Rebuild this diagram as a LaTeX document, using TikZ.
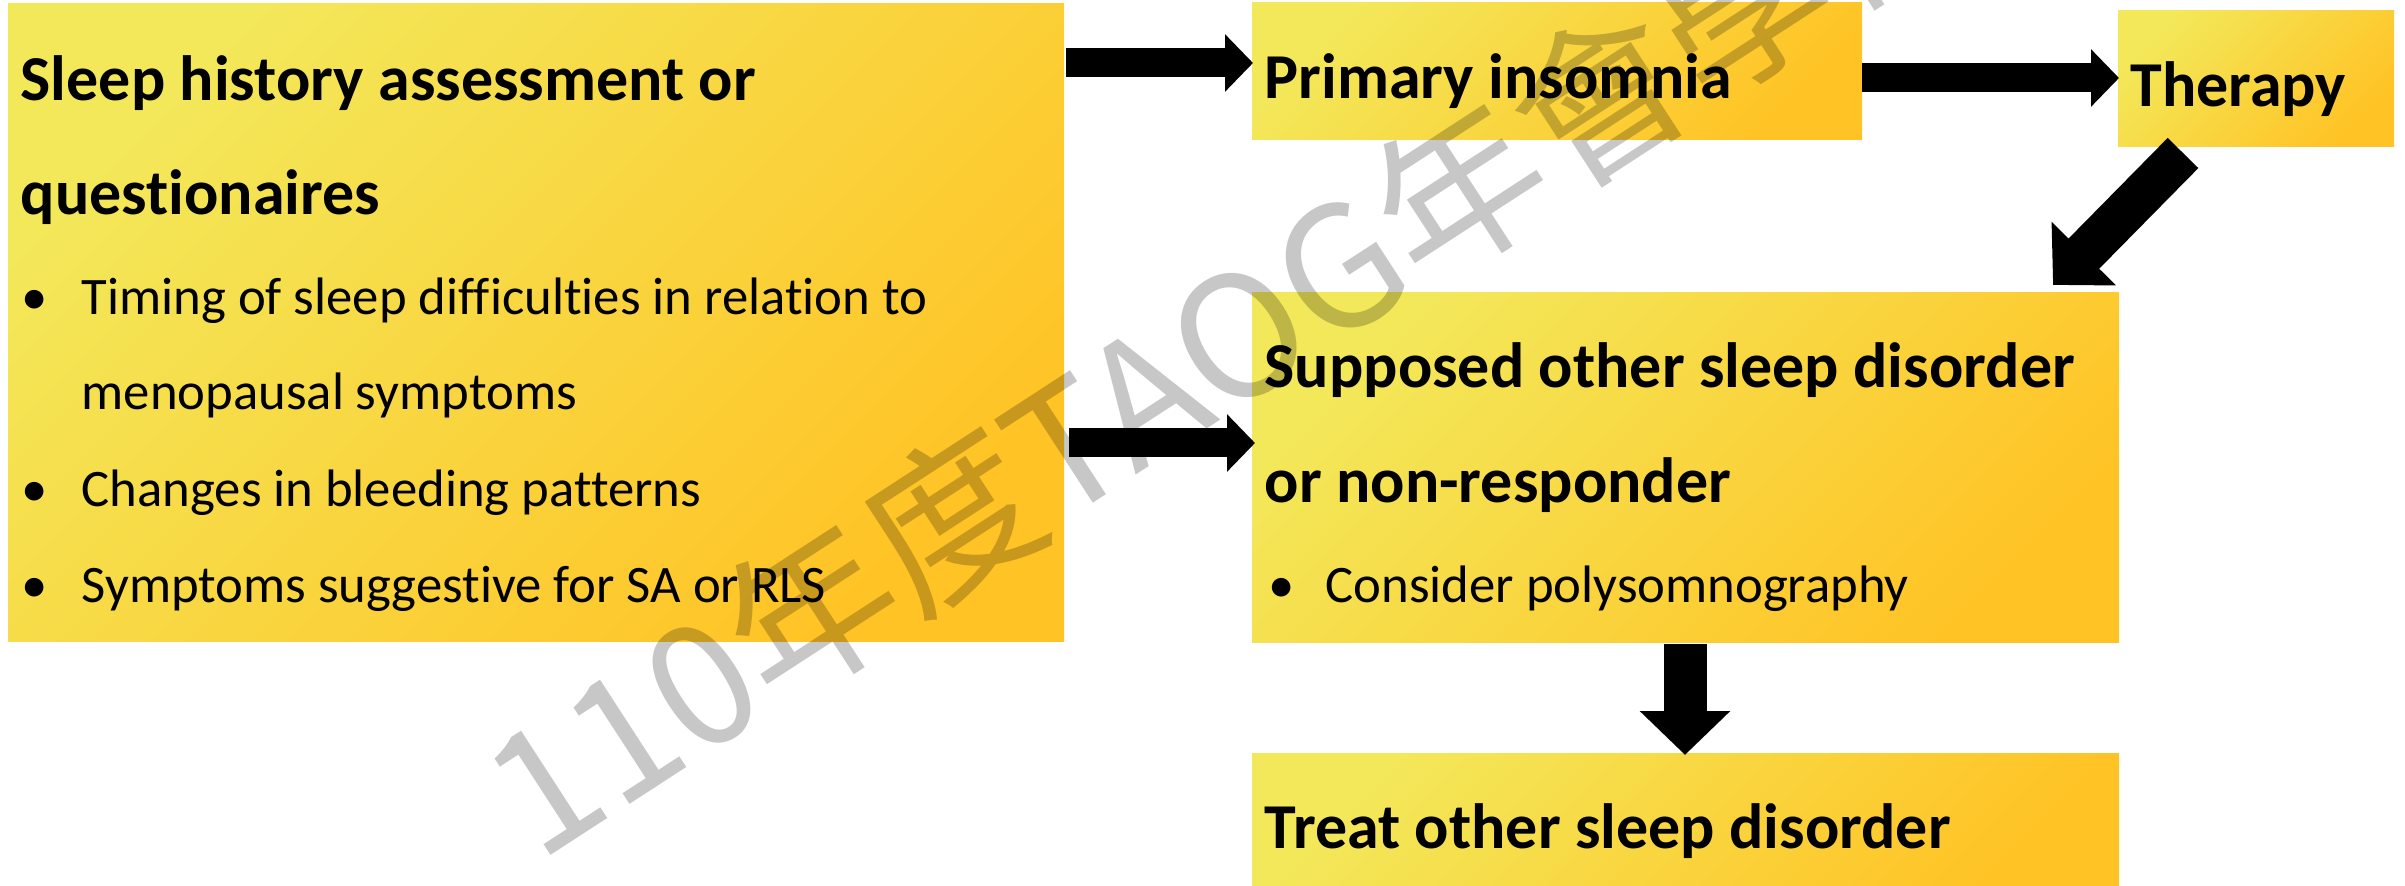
\documentclass[tikz,border=0pt]{standalone}
\usepackage{fontspec}
\setmainfont[Ligatures=NoCommon]{Carlito}
\newfontfamily\cjk{Noto Sans CJK TC}
\usetikzlibrary{arrows.meta,calc}
\definecolor{ylight}{RGB}{243,232,90}
\definecolor{ydark}{RGB}{255,195,37}

\begin{document}
\begin{tikzpicture}[x=0.1mm, y=-0.1mm,
    box/.style={inner sep=0, outer sep=0, anchor=north west, top color=ylight, bottom color=ydark, shading angle=45},
    head/.style={anchor=base west, inner sep=0, font=\bfseries\fontsize{18.2pt}{20pt}\selectfont},
    item/.style={anchor=base west, inner sep=0, font=\fontsize{15pt}{17pt}\selectfont},
    blk/.style={line width=2.9mm, -{Triangle[length=2.8mm, width=5.6mm]}},
    bigblk/.style={line width=4.3mm, -{Triangle[length=4.4mm, width=8.8mm]}},
    wm/.style={anchor=base west, inner sep=0, rotate=33, text=black, text opacity=0.22, font=\cjk\fontsize{48pt}{52pt}\selectfont}]
    \useasboundingbox (0,0) rectangle (2405,886);
    \clip (0,0) rectangle (2405,886);

    % boxes
    \node[box, minimum width=105.6mm, minimum height=63.8mm] (hist) at (8,4) {};
    \node[box, minimum width=61mm, minimum height=13.7mm] (prim) at (1252,3) {};
    \node[box, minimum width=27.6mm, minimum height=13.6mm] (ther) at (2118,11) {};
    \node[box, minimum width=86.7mm, minimum height=35mm] (supp) at (1252,293) {};
    \node[box, minimum width=86.7mm, minimum height=14mm] (treat) at (1252,753) {};

    % texts
    \node[head] (h1) at (20,101) {Sleep history assessment or};
    \node[head] (h2) at (20,215) {questionaires};
    \foreach \y in {315, 507, 603}{
        \node[item] at (21,\y) {•};
    }
    \node[item] (t1) at (81,315) {Timing of sleep difficulties in relation to};
    \node[item] (t2) at (81,410) {menopausal symptoms};
    \node[item] (t3) at (81,507) {Changes in bleeding patterns};
    \node[item] (t4) at (81,603) {Symptoms suggestive for SA or RLS};

    \node[head] (p1) at (1264,99) {Primary insomnia};
    \node[head] (r1) at (2130,107) {Therapy};

    \node[head] (s1) at (1264,388) {Supposed other sleep disorder};
    \node[head] (s2) at (1264,503) {or non-responder};
    \node[item] (sb) at (1268,603) {•};
    \node[item] (s3) at (1325,603) {Consider polysomnography};

    \node[head] (o1) at (1264,848) {Treat other sleep disorder};

    % arrows
    \draw[blk] ($(hist.north east)+(2,59)$) -- ($(prim.north west)+(1,60)$);
    \draw[blk] ($(prim.north east)+(0,75)$) -- ($(ther.north west)+(1,67)$);
    \draw[blk] ($(hist.north east)+(5,439)$) -- ($(supp.north west)+(3,150)$);
    \draw[bigblk] ($(supp.south west)+(433,1)$) -- ($(treat.north west)+(433,2)$);
    \draw[bigblk] ($(ther.south west)+(65,6)$) -- ($(supp.north east)+(-66,-8)$);

    % watermark
    \node[wm] (mark) at (538,864) {110年度TAOG年會學術};
\end{tikzpicture}
\end{document}
